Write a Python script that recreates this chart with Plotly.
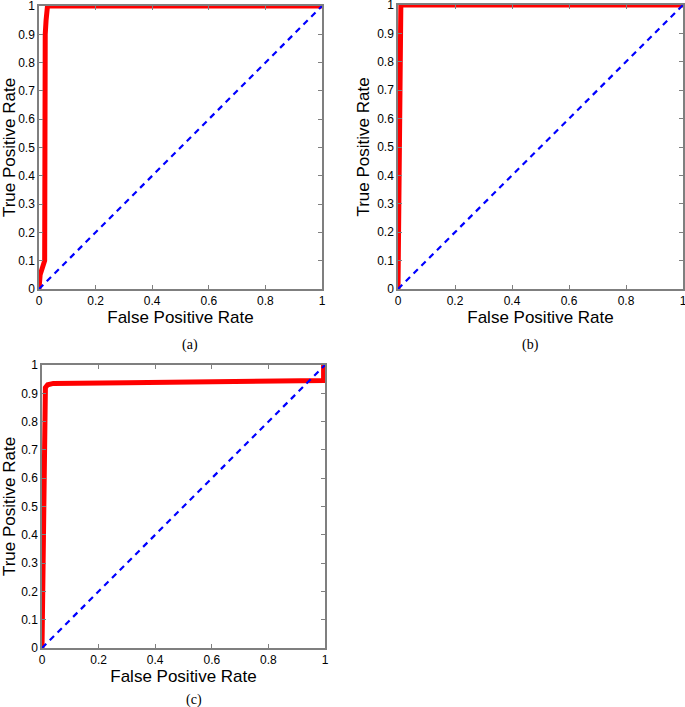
import plotly.graph_objects as go

# ROC curves
fpr_a = [0, 0.004, 0.02, 0.02, 0.022, 0.025, 0.03, 1.0]
tpr_a = [0, 0.05, 0.10, 0.50, 0.90, 0.95, 1.0, 1.0]

fpr_b = [0, 0.004, 0.008, 0.01, 1.0]
tpr_b = [0, 0.50, 0.98, 1.0, 1.0]

fpr_c = [0, 0.005, 0.01, 0.012, 0.02, 0.04, 0.3, 0.6, 0.8, 0.995, 0.995]
tpr_c = [0, 0.40, 0.83, 0.92, 0.93, 0.935, 0.937, 0.942, 0.945, 0.945, 1.0]

diag = [0, 1]

x_ticks = [0, 0.2, 0.4, 0.6, 0.8, 1]
y_ticks = [0, 0.1, 0.2, 0.3, 0.4, 0.5, 0.6, 0.7, 0.8, 0.9, 1]
captions = ["(a)", "(b)", "(c)"]

W, H = 685, 707
# plot boxes in pixels: left, right, top, bottom, caption centre y
boxes = [(39, 322, 6, 289, 345), (398, 683, 5, 289, 345), (42, 325, 365, 648, 700)]
curves = [(fpr_a, tpr_a), (fpr_b, tpr_b), (fpr_c, tpr_c)]

fig = go.Figure()
ann = []
font = "Liberation Sans, Arial, sans-serif"

for i, ((l, r, t, b, cy), (fx, ty)) in enumerate(zip(boxes, curves)):
    n = "" if i == 0 else str(i + 1)
    xa, ya = "x" + n, "y" + n
    fig.add_trace(go.Scatter(x=fx, y=ty, mode="lines", xaxis=xa, yaxis=ya,
                             line=dict(color="#ff0000", width=5), showlegend=False))
    fig.add_trace(go.Scatter(x=diag, y=diag, mode="lines", xaxis=xa, yaxis=ya,
                             line=dict(color="#0000ff", width=2.2, dash="6px,5px"),
                             showlegend=False))
    ax = dict(range=[0, 1], showline=True, mirror="ticks", linecolor="#7f7f7f",
              linewidth=1.5, ticks="inside", ticklen=4, tickcolor="#7f7f7f",
              showgrid=False, zeroline=False, automargin=False,
              ticklabeloverflow="allow",
              tickfont=dict(family=font, size=12, color="black"))
    fig.update_layout(**{
        "xaxis" + n: dict(ax, domain=[l / W, r / W], anchor=ya, tickvals=x_ticks,
                          ticktext=[f"{v:g}" for v in x_ticks],
                          title=dict(text="False Positive Rate", standoff=3,
                                     font=dict(family=font, size=17, color="black"))),
        "yaxis" + n: dict(ax, domain=[1 - b / H, 1 - t / H], anchor=xa, tickvals=y_ticks,
                          ticktext=[f"{v:g}" for v in y_ticks],
                          title=dict(text="True Positive Rate", standoff=3,
                                     font=dict(family=font, size=17, color="black"))),
    })
    ann.append(dict(text=captions[i], x=(l + r) / 2 / W, y=1 - cy / H,
                    xref="paper", yref="paper", showarrow=False, yanchor="middle",
                    font=dict(family="Liberation Serif, serif", size=14, color="black")))

fig.update_layout(width=W, height=H, margin=dict(l=0, r=0, t=0, b=0),
                  plot_bgcolor="white", paper_bgcolor="white", annotations=ann)

# drop the page's default 8px body margin so the figure fills the window
fig.write_html("out.html", config={"displayModeBar": False},
               post_script="document.body.style.margin='0';")
